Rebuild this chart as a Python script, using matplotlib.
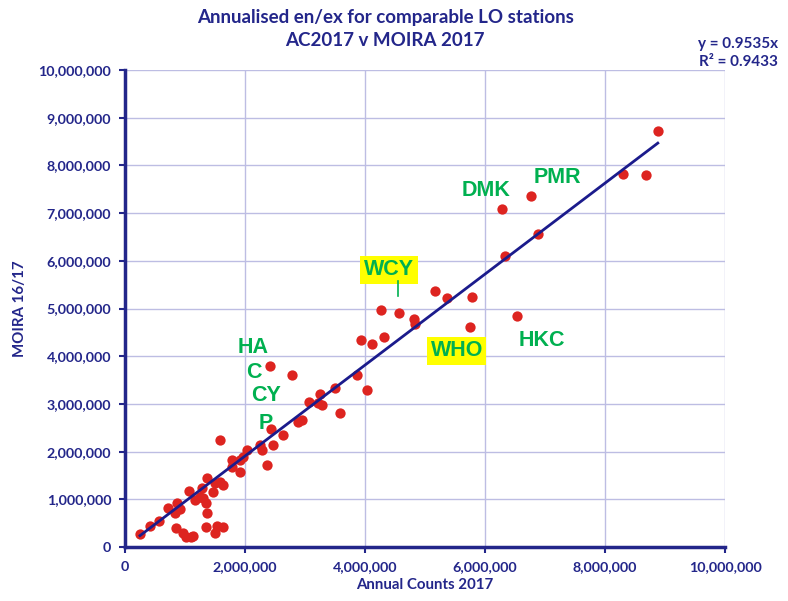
import matplotlib
matplotlib.use("Agg")
import matplotlib.pyplot as plt
import numpy as np

# Data (millions)
annual_counts = [0.25, 0.42, 0.56, 0.72, 0.86, 0.92, 0.83, 0.85, 0.97, 1.02, 1.10, 1.14,
                 1.07, 1.17, 1.25, 1.30, 1.35, 1.28, 1.37, 1.47, 1.50, 1.58, 1.64, 1.37,
                 1.35, 1.50, 1.53, 1.64, 1.58, 1.79, 1.78, 1.92, 1.97, 2.04, 1.92, 2.25,
                 2.28, 2.36, 2.44, 2.46, 2.64, 2.89, 2.95, 3.07, 3.22, 3.28, 3.25, 3.50,
                 3.59, 2.41, 2.79, 3.87, 4.04, 3.94, 4.12, 4.31, 4.27, 4.57, 4.82, 4.84,
                 5.17, 5.37, 5.79, 5.75, 6.53, 6.34, 6.28, 6.77, 6.88, 8.30, 8.69, 8.88]
moira = [0.27, 0.43, 0.54, 0.81, 0.92, 0.80, 0.72, 0.40, 0.29, 0.22, 0.22, 0.24,
         1.18, 0.99, 1.05, 1.02, 0.93, 1.24, 1.44, 1.15, 1.34, 1.37, 1.30, 0.71,
         0.42, 0.29, 0.43, 0.41, 2.24, 1.82, 1.67, 1.82, 1.89, 2.03, 1.57, 2.14,
         2.03, 1.72, 2.47, 2.14, 2.34, 2.63, 2.66, 3.04, 3.01, 2.98, 3.20, 3.34,
         2.80, 3.80, 3.61, 3.60, 3.29, 4.33, 4.26, 4.41, 4.97, 4.91, 4.77, 4.67,
         5.37, 5.21, 5.25, 4.61, 4.84, 6.10, 7.09, 7.36, 6.56, 7.83, 7.80, 8.72]
slope = 0.9535
r2 = 0.9433

labels = ["HA", "C", "CY", "P", "WCY", "WHO", "HKC", "DMK", "PMR"]
label_x = [2.13, 2.15, 2.35, 2.35, 4.40, 5.53, 6.95, 6.02, 7.20]
label_y = [4.19, 3.65, 3.17, 2.58, 5.81, 4.11, 4.32, 7.48, 7.74]
highlighted = ["WCY", "WHO"]

x = np.array(annual_counts) * 1e6
y = np.array(moira) * 1e6

navy = "#23268a"
green = "#00b050"

fig = plt.figure(figsize=(7.88, 6.01), dpi=100)
ax = fig.add_axes([125/788, 1-547/601, 600/788, 477/601])

ax.set_xlim(0, 10e6)
ax.set_ylim(0, 10e6)
ax.set_xticks(np.arange(0, 10e6 + 1, 2e6))
ax.set_yticks(np.arange(0, 10e6 + 1, 1e6))
ax.grid(True, color="#bdbde3", linewidth=1.0)
ax.set_axisbelow(True)
for s in ["top", "right"]:
    ax.spines[s].set_visible(False)
for s in ["left", "bottom"]:
    ax.spines[s].set_color(navy)
    ax.spines[s].set_linewidth(2.5)

fmt = matplotlib.ticker.FuncFormatter(lambda v, p: f"{int(v):,}")
ax.xaxis.set_major_formatter(fmt)
ax.yaxis.set_major_formatter(fmt)
ax.tick_params(colors=navy, length=4, width=1.5, direction="out", labelsize=10.3, pad=6)
for lab in ax.get_xticklabels() + ax.get_yticklabels():
    lab.set_fontfamily("Lato")
    lab.set_fontweight("bold")
    lab.set_color(navy)

ax.scatter(x, y, s=55, color="#dd2420", zorder=3, linewidths=0, clip_on=False)

xl = np.array([x.min(), x.max()])
ax.plot(xl, slope * xl, color="#1b1b8c", linewidth=2.0, zorder=4)

for lab, lx, ly in zip(labels, label_x, label_y):
    bbox = dict(facecolor="#ffff00", edgecolor="none", pad=2.5) if lab in highlighted else None
    ax.text(lx * 1e6, ly * 1e6, lab, color=green, fontsize=15.5, fontweight="bold",
            family="Liberation Sans", ha="center", va="center", bbox=bbox, zorder=5)
# small tick under WCY
ax.plot([4.55e6, 4.55e6], [5.26e6, 5.58e6], color=green, linewidth=1.2, zorder=5)

ax.set_xlabel("Annual Counts 2017", color=navy, fontsize=10.8, family="Lato", fontweight="bold", labelpad=4)
ax.set_ylabel("MOIRA 16/17", color=navy, fontsize=10.8, family="Lato", fontweight="bold", labelpad=8)

fig.text(0.489, 1-17/601, "Annualised en/ex for comparable LO stations", color=navy,
         fontsize=13.5, family="Lato", fontweight="bold", ha="center", va="center")
fig.text(0.489, 1-40/601, "AC2017 v MOIRA 2017", color=navy,
         fontsize=13.5, family="Lato", fontweight="bold", ha="center", va="center")
fig.text(778/788, 1-44/601, f"y = {slope}x", color=navy, fontsize=11, family="Lato",
         fontweight="bold", ha="right", va="center")
fig.text(778/788, 1-62/601, f"R² = {r2}", color=navy, fontsize=11, family="Lato",
         fontweight="bold", ha="right", va="center")

fig.savefig("out.png", dpi=100)
